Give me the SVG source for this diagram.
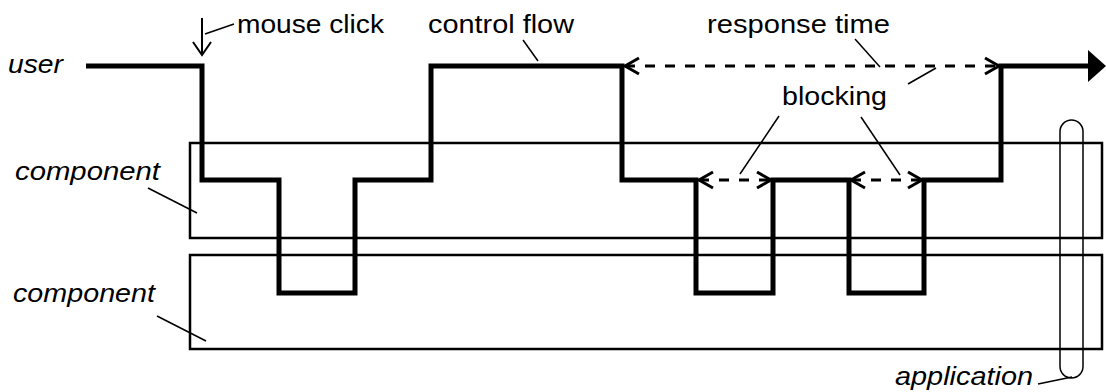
<svg xmlns="http://www.w3.org/2000/svg" width="1106" height="392" viewBox="0 0 1106 392">
<style>
  .lbl{font-family:"Liberation Sans",Arial,sans-serif;font-size:25px;fill:#000}
  .it{font-style:italic}
  .box{fill:none;stroke:#000;stroke-width:2.5}
  .flow{fill:none;stroke:#000;stroke-width:5;stroke-linejoin:miter;stroke-linecap:butt}
  .dash{fill:none;stroke:#000;stroke-width:3;stroke-dasharray:10 10}
  .lead{fill:none;stroke:#000;stroke-width:1.5}
</style>
<defs>
  <marker id="chev" markerUnits="userSpaceOnUse" markerWidth="20" markerHeight="20" viewBox="-16 -10 18 20" refX="0" refY="0" orient="auto-start-reverse">
    <path d="M-14,-8 L0,0 L-14,8" fill="none" stroke="#000" stroke-width="3"/>
  </marker>
  <marker id="chevs" markerUnits="userSpaceOnUse" markerWidth="20" markerHeight="20" viewBox="-16 -10 18 20" refX="0" refY="0" orient="auto">
    <path d="M-9,-12 L0,0 L9,-12" fill="none" stroke="#000" stroke-width="2" transform="rotate(-90)"/>
  </marker>
</defs>

<g id="component1">
  <rect class="box" x="190" y="143" width="912" height="95"/>
  <text class="lbl it" x="15" y="180" textLength="145" lengthAdjust="spacingAndGlyphs">component</text>
  <line class="lead" x1="148" y1="188" x2="197" y2="213"/>
</g>
<g id="component2">
  <rect class="box" x="190" y="255" width="912" height="94"/>
  <text class="lbl it" x="13" y="302" textLength="142" lengthAdjust="spacingAndGlyphs">component</text>
  <line class="lead" x1="157" y1="316" x2="206" y2="341"/>
</g>
<g id="application">
  <rect x="1060" y="120" width="23" height="258" rx="11.5" ry="11.5" fill="none" stroke="#000" stroke-width="1.5"/>
  <text class="lbl it" x="895" y="385" textLength="138" lengthAdjust="spacingAndGlyphs">application</text>
  <path class="lead" d="M1038,384 L1072,377"/>
</g>
<g id="user">
  <text class="lbl it" x="8" y="73" textLength="55" lengthAdjust="spacingAndGlyphs">user</text>
</g>

<g id="connectors">
  <path id="control-flow" class="flow" d="M86,66 H202 V180 H279 V293 H355 V180 H431 V66 H622 V180 H696 V293 H773 V180 H849 V293 H924 V180 H1001 V66 H1089"/>
  <polygon points="1088,50 1106,66 1088,82" fill="#000"/>
  <line id="response-time" class="dash" x1="625" y1="66" x2="999" y2="66" marker-start="url(#chev)" marker-end="url(#chev)"/>
  <line id="blocking1" class="dash" x1="699" y1="180" x2="771" y2="180" marker-start="url(#chev)" marker-end="url(#chev)"/>
  <line id="blocking2" class="dash" x1="851" y1="180" x2="922" y2="180" marker-start="url(#chev)" marker-end="url(#chev)"/>
  <g id="mouse-click-arrow">
    <line x1="202" y1="18" x2="202" y2="54" stroke="#000" stroke-width="2"/>
    <path d="M193,42 L202,55 L211,42" fill="none" stroke="#000" stroke-width="2"/>
  </g>
</g>

<g id="labels">
  <text class="lbl" x="237" y="33" textLength="147" lengthAdjust="spacingAndGlyphs">mouse click</text>
  <line class="lead" x1="205" y1="34" x2="234" y2="24"/>
  <text class="lbl" x="428" y="33" textLength="146" lengthAdjust="spacingAndGlyphs">control flow</text>
  <line class="lead" x1="523" y1="40" x2="538" y2="61"/>
  <text class="lbl" x="707" y="33" textLength="183" lengthAdjust="spacingAndGlyphs">response time</text>
  <line class="lead" x1="855" y1="39" x2="880" y2="67"/>
  <text class="lbl" x="782" y="105" textLength="105" lengthAdjust="spacingAndGlyphs">blocking</text>
  <line class="lead" x1="908" y1="84" x2="936" y2="68"/>
  <line class="lead" x1="779" y1="116" x2="740" y2="174"/>
  <line class="lead" x1="861" y1="117" x2="900" y2="175"/>
</g>
</svg>
